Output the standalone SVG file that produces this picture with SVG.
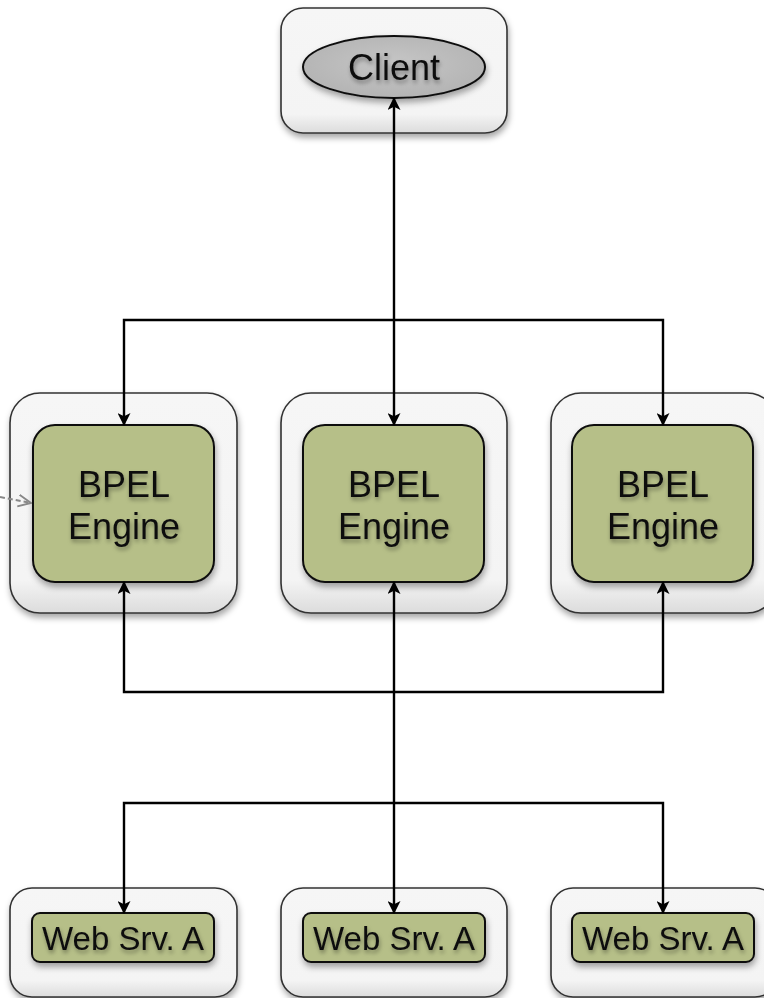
<svg xmlns="http://www.w3.org/2000/svg" width="764" height="998" viewBox="0 0 764 998">
<defs>
<linearGradient id="outerG" x1="0" y1="0" x2="0" y2="1">
<stop offset="0" stop-color="#f6f6f6"/>
<stop offset="0.85" stop-color="#f4f4f4"/>
<stop offset="1" stop-color="#dcdcdc"/>
</linearGradient>
<radialGradient id="ellG" cx="0.5" cy="0.45" r="0.6">
<stop offset="0" stop-color="#c6c6c6"/>
<stop offset="1" stop-color="#b2b2b2"/>
</radialGradient>
<filter id="sh" x="-20%" y="-20%" width="140%" height="150%">
<feDropShadow dx="1" dy="4" stdDeviation="3" flood-color="#000" flood-opacity="0.35"/>
</filter>
<filter id="tsh" x="-20%" y="-20%" width="140%" height="160%">
<feDropShadow dx="1" dy="3" stdDeviation="2" flood-color="#000" flood-opacity="0.35"/>
</filter>
<marker id="ah" viewBox="0 0 12 12" refX="11" refY="6" markerWidth="15" markerHeight="13" markerUnits="userSpaceOnUse" orient="auto-start-reverse">
<path d="M0,0 L12,6 L0,12 L3,6 Z" fill="#000"/>
</marker>
<marker id="oh" viewBox="0 0 12 12" refX="11" refY="6" markerWidth="14" markerHeight="14" markerUnits="userSpaceOnUse" orient="auto">
<path d="M0,1 L11,6 L0,11" fill="none" stroke="#888" stroke-width="1.6"/>
</marker>
</defs>
<style>
.outer{fill:url(#outerG);stroke:#333;stroke-width:1.6;filter:url(#sh)}
.inner{fill:#b6bf88;stroke:#111;stroke-width:2;filter:url(#sh)}
.t{font-family:"Liberation Sans",Arial,sans-serif;fill:#111;text-anchor:middle;filter:url(#tsh)}
.big{font-size:36px}
.mid{font-size:33px}
.c{fill:none;stroke:#000;stroke-width:2.4}
</style>

<g id="client">
<rect class="outer" x="281" y="8" width="226" height="125" rx="22"/>
<ellipse cx="394" cy="67" rx="91" ry="31" fill="url(#ellG)" stroke="#111" stroke-width="2" filter="url(#sh)"/>
<text class="t big" x="394" y="80">Client</text>
</g>

<g id="bpel1">
<rect class="outer" x="10" y="393" width="227" height="220" rx="30"/>
<rect class="inner" x="33" y="425" width="181" height="157" rx="22"/>
<text class="t big" x="124" y="497">BPEL</text>
<text class="t big" x="124" y="539">Engine</text>
</g>
<g id="bpel2">
<rect class="outer" x="281" y="393" width="226" height="220" rx="30"/>
<rect class="inner" x="303" y="425" width="181" height="157" rx="22"/>
<text class="t big" x="394" y="497">BPEL</text>
<text class="t big" x="394" y="539">Engine</text>
</g>
<g id="bpel3">
<rect class="outer" x="551" y="393" width="226" height="220" rx="30"/>
<rect class="inner" x="572" y="425" width="181" height="157" rx="22"/>
<text class="t big" x="663" y="497">BPEL</text>
<text class="t big" x="663" y="539">Engine</text>
</g>

<g id="ws1">
<rect class="outer" x="10" y="888" width="227" height="109" rx="22"/>
<rect class="inner" x="32" y="913" width="182" height="49" rx="8"/>
<text class="t mid" x="123" y="950">Web Srv. A</text>
</g>
<g id="ws2">
<rect class="outer" x="281" y="888" width="226" height="109" rx="22"/>
<rect class="inner" x="303" y="913" width="182" height="49" rx="8"/>
<text class="t mid" x="394" y="950">Web Srv. A</text>
</g>
<g id="ws3">
<rect class="outer" x="551" y="888" width="226" height="109" rx="22"/>
<rect class="inner" x="572" y="913" width="182" height="49" rx="8"/>
<text class="t mid" x="663" y="950">Web Srv. A</text>
</g>

<g id="connectors">
<path class="c" d="M394,98 L394,425" marker-start="url(#ah)" marker-end="url(#ah)"/>
<path class="c" d="M124,425 L124,320 L663,320 L663,425" marker-start="url(#ah)" marker-end="url(#ah)"/>
<path class="c" d="M394,582 L394,913" marker-start="url(#ah)" marker-end="url(#ah)"/>
<path class="c" d="M124,582 L124,692 L663,692 L663,582" marker-start="url(#ah)" marker-end="url(#ah)"/>
<path class="c" d="M124,913 L124,803 L663,803 L663,913" marker-start="url(#ah)" marker-end="url(#ah)"/>
<path d="M0,497 L31,503" fill="none" stroke="#888" stroke-width="2" stroke-dasharray="5,3" marker-end="url(#oh)"/>
</g>
</svg>
